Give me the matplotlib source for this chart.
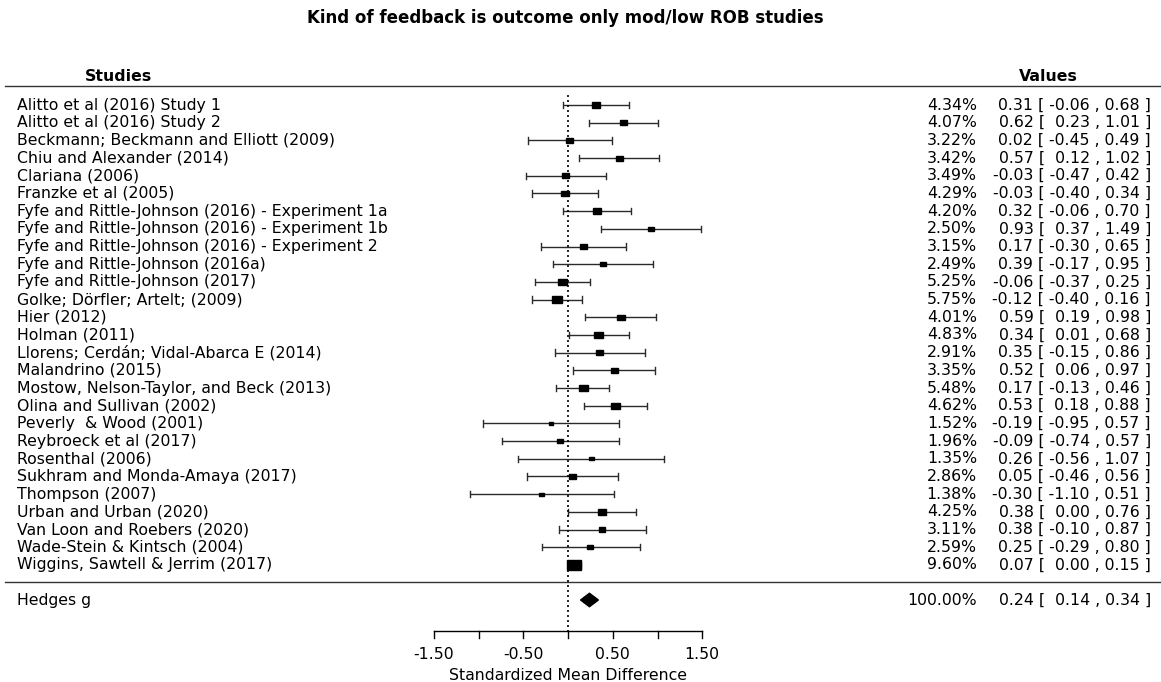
import matplotlib
matplotlib.use("Agg")
import matplotlib.pyplot as plt
from matplotlib.patches import Rectangle, Polygon
from matplotlib.transforms import blended_transform_factory

plt.rcParams['font.family'] = ['DejaVu Sans']

title = "Kind of feedback is outcome only mod/low ROB studies"
studies = [
    "Alitto et al (2016) Study 1",
    "Alitto et al (2016) Study 2",
    "Beckmann; Beckmann and Elliott (2009)",
    "Chiu and Alexander (2014)",
    "Clariana (2006)",
    "Franzke et al (2005)",
    "Fyfe and Rittle-Johnson (2016) - Experiment 1a",
    "Fyfe and Rittle-Johnson (2016) - Experiment 1b",
    "Fyfe and Rittle-Johnson (2016) - Experiment 2",
    "Fyfe and Rittle-Johnson (2016a)",
    "Fyfe and Rittle-Johnson (2017)",
    "Golke; Dörfler; Artelt; (2009)",
    "Hier (2012)",
    "Holman (2011)",
    "Llorens; Cerdán; Vidal-Abarca E (2014)",
    "Malandrino (2015)",
    "Mostow, Nelson-Taylor, and Beck (2013)",
    "Olina and Sullivan (2002)",
    "Peverly  & Wood (2001)",
    "Reybroeck et al (2017)",
    "Rosenthal (2006)",
    "Sukhram and Monda-Amaya (2017)",
    "Thompson (2007)",
    "Urban and Urban (2020)",
    "Van Loon and Roebers (2020)",
    "Wade-Stein & Kintsch (2004)",
    "Wiggins, Sawtell & Jerrim (2017)",
]
weights = [4.34, 4.07, 3.22, 3.42, 3.49, 4.29, 4.20, 2.50, 3.15, 2.49, 5.25, 5.75,
           4.01, 4.83, 2.91, 3.35, 5.48, 4.62, 1.52, 1.96, 1.35, 2.86, 1.38, 4.25,
           3.11, 2.59, 9.60]
est = [0.31, 0.62, 0.02, 0.57, -0.03, -0.03, 0.32, 0.93, 0.17, 0.39, -0.06, -0.12,
       0.59, 0.34, 0.35, 0.52, 0.17, 0.53, -0.19, -0.09, 0.26, 0.05, -0.30, 0.38,
       0.38, 0.25, 0.07]
lo = [-0.06, 0.23, -0.45, 0.12, -0.47, -0.40, -0.06, 0.37, -0.30, -0.17, -0.37, -0.40,
      0.19, 0.01, -0.15, 0.06, -0.13, 0.18, -0.95, -0.74, -0.56, -0.46, -1.10, 0.00,
      -0.10, -0.29, 0.00]
hi = [0.68, 1.01, 0.49, 1.02, 0.42, 0.34, 0.70, 1.49, 0.65, 0.95, 0.25, 0.16,
      0.98, 0.68, 0.86, 0.97, 0.46, 0.88, 0.57, 0.57, 1.07, 0.56, 0.51, 0.76,
      0.87, 0.80, 0.15]
pooled_label = "Hedges g"
pooled = (0.24, 0.14, 0.34)
pooled_weight = "100.00%"
xticks = [-1.5, -1.0, -0.5, 0.0, 0.5, 1.0, 1.5]
xtick_labels = ["-1.50", "", "-0.50", "", "0.50", "", "1.50"]
xlabel = "Standardized Mean Difference"

W, H = 1161, 682
fig = plt.figure(figsize=(W / 100, H / 100), dpi=100)
ax = fig.add_axes([0, 0, 1, 1])
ax.set_axis_off()

# pixel geometry
x0_px, unit_px = 568.0, 89.5
row0_px, row_px = 105.0, 17.69
ax.set_xlim(-x0_px / unit_px, (W - x0_px) / unit_px)
ax.set_ylim((H - row0_px) / row_px, -row0_px / row_px)

def py(p):  # pixel y -> row units
    return (p - row0_px) / row_px

def px(p):  # pixel x -> effect units
    return (p - x0_px) / unit_px

bt = blended_transform_factory(fig.transFigure, ax.transData)
fs = 11.3
n = len(studies)
col = "#000000"
lcol = "#2a2a2a"
cap = 0.18
wmin, wmax = min(weights), max(weights)
max_box_px = 14.0

def fmt(e, a, b):
    return f"{e:.2f} [ {a:5.2f} , {b:.2f} ]"

for i in range(n):
    y = i
    ax.plot([lo[i], hi[i]], [y, y], color=lcol, lw=1.0, solid_capstyle="butt")
    for xv in (lo[i], hi[i]):
        ax.plot([xv, xv], [y - cap, y + cap], color=lcol, lw=1.0)
    s = (0.5 + (weights[i] - wmin) / (wmax - wmin)) / 1.5
    bw = s * max_box_px / unit_px
    bh = s * max_box_px * 0.7 / row_px
    ax.add_patch(Rectangle((est[i] - bw / 2, y - bh / 2), bw, bh, color=col, zorder=3))
    ax.text(17 / W, y, studies[i], transform=bt, ha="left", va="center", fontsize=fs)
    ax.text(977 / W, y, f"{weights[i]:.2f}%", transform=bt, ha="right", va="center", fontsize=fs)
    ax.text(1151 / W, y, fmt(est[i], lo[i], hi[i]),
            transform=bt, ha="right", va="center", fontsize=fs)

# pooled
yp = py(600)
m, l, h = pooled
dh = 0.38
ax.add_patch(Polygon([[l, yp], [m, yp - dh], [h, yp], [m, yp + dh]], closed=True, color=col, zorder=3))
ax.text(17 / W, yp, pooled_label, transform=bt, ha="left", va="center", fontsize=fs)
ax.text(977 / W, yp, pooled_weight, transform=bt, ha="right", va="center", fontsize=fs)
ax.text(1151 / W, yp, fmt(m, l, h), transform=bt, ha="right", va="center", fontsize=fs)

# header
ax.text(118 / W, py(76), "Studies", transform=bt, ha="center", va="center", fontsize=fs, fontweight="bold")
ax.text(1048 / W, py(76), "Values", transform=bt, ha="center", va="center", fontsize=fs, fontweight="bold")
ax.plot([px(5), px(W)], [py(86), py(86)], color="#333333", lw=1.0)
ax.plot([px(5), px(W)], [py(582), py(582)], color="#333333", lw=1.0)

# zero line
ax.plot([0, 0], [py(95), py(631)], color="#000000", lw=1.2, ls=(0, (1.2, 1.8)))

# axis
ya = py(631)
ax.plot([xticks[0], xticks[-1]], [ya, ya], color="#000000", lw=1.0)
for t, lab in zip(xticks, xtick_labels):
    ax.plot([t, t], [ya, py(638)], color="#000000", lw=1.0)
    if lab:
        ax.text(t, py(654), lab, ha="center", va="center", fontsize=fs)
ax.text(0, py(675), xlabel, ha="center", va="center", fontsize=fs)

ax.text(px(565), py(18), title, ha="center", va="center", fontsize=12, fontweight="bold")

fig.savefig("out.png", dpi=100)
